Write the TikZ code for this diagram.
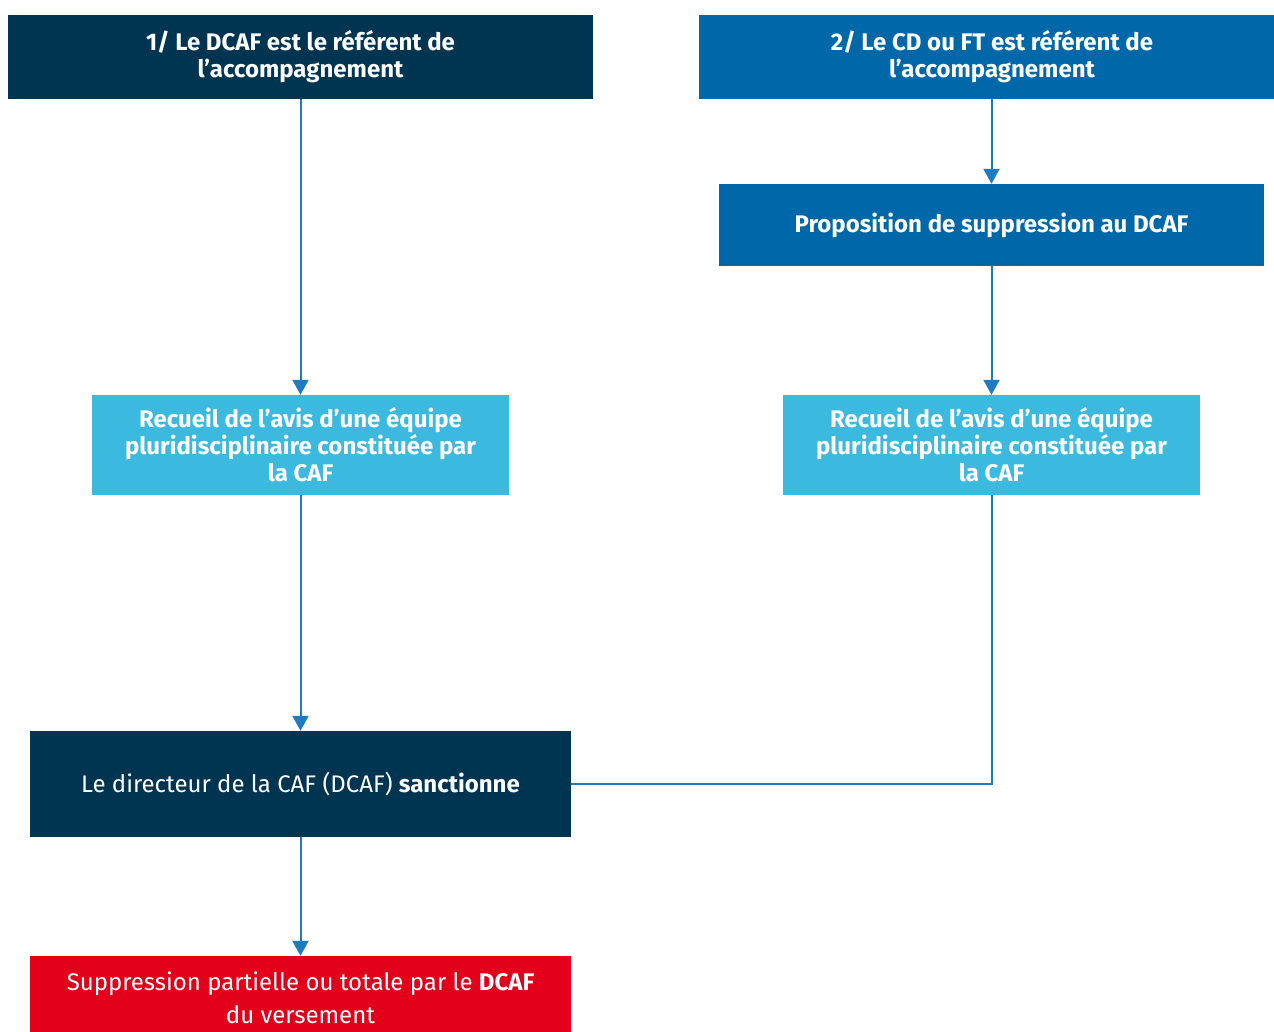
\documentclass[tikz,border=0pt]{standalone}
\usepackage{fontspec}
\setmainfont{Fira Sans}
\usetikzlibrary{positioning, arrows.meta, calc}
\definecolor{cafnavy}{HTML}{003552}
\definecolor{cafblue}{HTML}{0068A8}
\definecolor{cafsky}{HTML}{3BB9DE}
\definecolor{cafred}{HTML}{E2001A}
\definecolor{cafline}{HTML}{1F7BC0}
\tikzset{
  sanction/.style={
	x=1pt, y=-1pt, % one unit is one pixel of the layout, y going down
	every node/.style={align=center, text=white, inner sep=0pt,
		font=\fontsize{24}{27}\selectfont}, % white centred text in every box
  },
  navybox/.style={fill=cafnavy, font=\fontsize{24}{27}\selectfont\bfseries}, % dark boxes
  bluebox/.style={fill=cafblue, font=\fontsize{24}{27}\selectfont\bfseries}, % CD / FT side
  skybox/.style={fill=cafsky, font=\fontsize{24}{27}\selectfont\bfseries}, % team advice
  redbox/.style={fill=cafred, font=\fontsize{24}{33}\selectfont}, % final decision
  link/.style={draw=cafline, line width=2pt}, % plain connector
  linkarr/.style={link, -{Triangle[width=16pt, length=15pt]}}, % connector with head
}
\begin{document}
\begin{tikzpicture}[sanction]
	\useasboundingbox (0,0) rectangle (1274,1032);

	% left column
	\node[navybox, minimum width=585, minimum height=84] (hdr1) at (300.5,57)
		{1/ Le DCAF est le référent de\\l’accompagnement};
	\node[skybox, minimum width=417, minimum height=100] (avis1) at (300.5,445)
		{Recueil de l’avis d’une équipe\\pluridisciplinaire constituée par\\la CAF};
	\node[navybox, font=\fontsize{24}{27}\selectfont\mdseries, minimum width=541, minimum height=106] (dcaf) at (300.5,784)
		{Le directeur de la CAF (DCAF) \textbf{sanctionne}};
	\node[redbox, minimum width=541, minimum height=84] (suppr) at (300.5,998)
		{Suppression partielle ou totale par le \textbf{DCAF}\\du versement};

	% right column
	\node[bluebox, minimum width=586, minimum height=84] (hdr2) at (992,57)
		{2/ Le CD ou FT est référent de\\l’accompagnement};
	\node[bluebox, minimum width=545, minimum height=82] (propo) at (991.5,225)
		{Proposition de suppression au DCAF};
	\node[skybox, minimum width=417, minimum height=100] (avis2) at (991.5,445)
		{Recueil de l’avis d’une équipe\\pluridisciplinaire constituée par\\la CAF};

	\draw[linkarr] (hdr1) -- (avis1);
	\draw[linkarr] (avis1) -- (dcaf);
	\draw[linkarr] (dcaf) -- (suppr);
	\draw[linkarr] (hdr2.south -| propo.north) -- (propo);
	\draw[linkarr] (propo) -- (avis2);
	\draw[link] (avis2.south) |- (dcaf.east);
\end{tikzpicture}
\end{document}
